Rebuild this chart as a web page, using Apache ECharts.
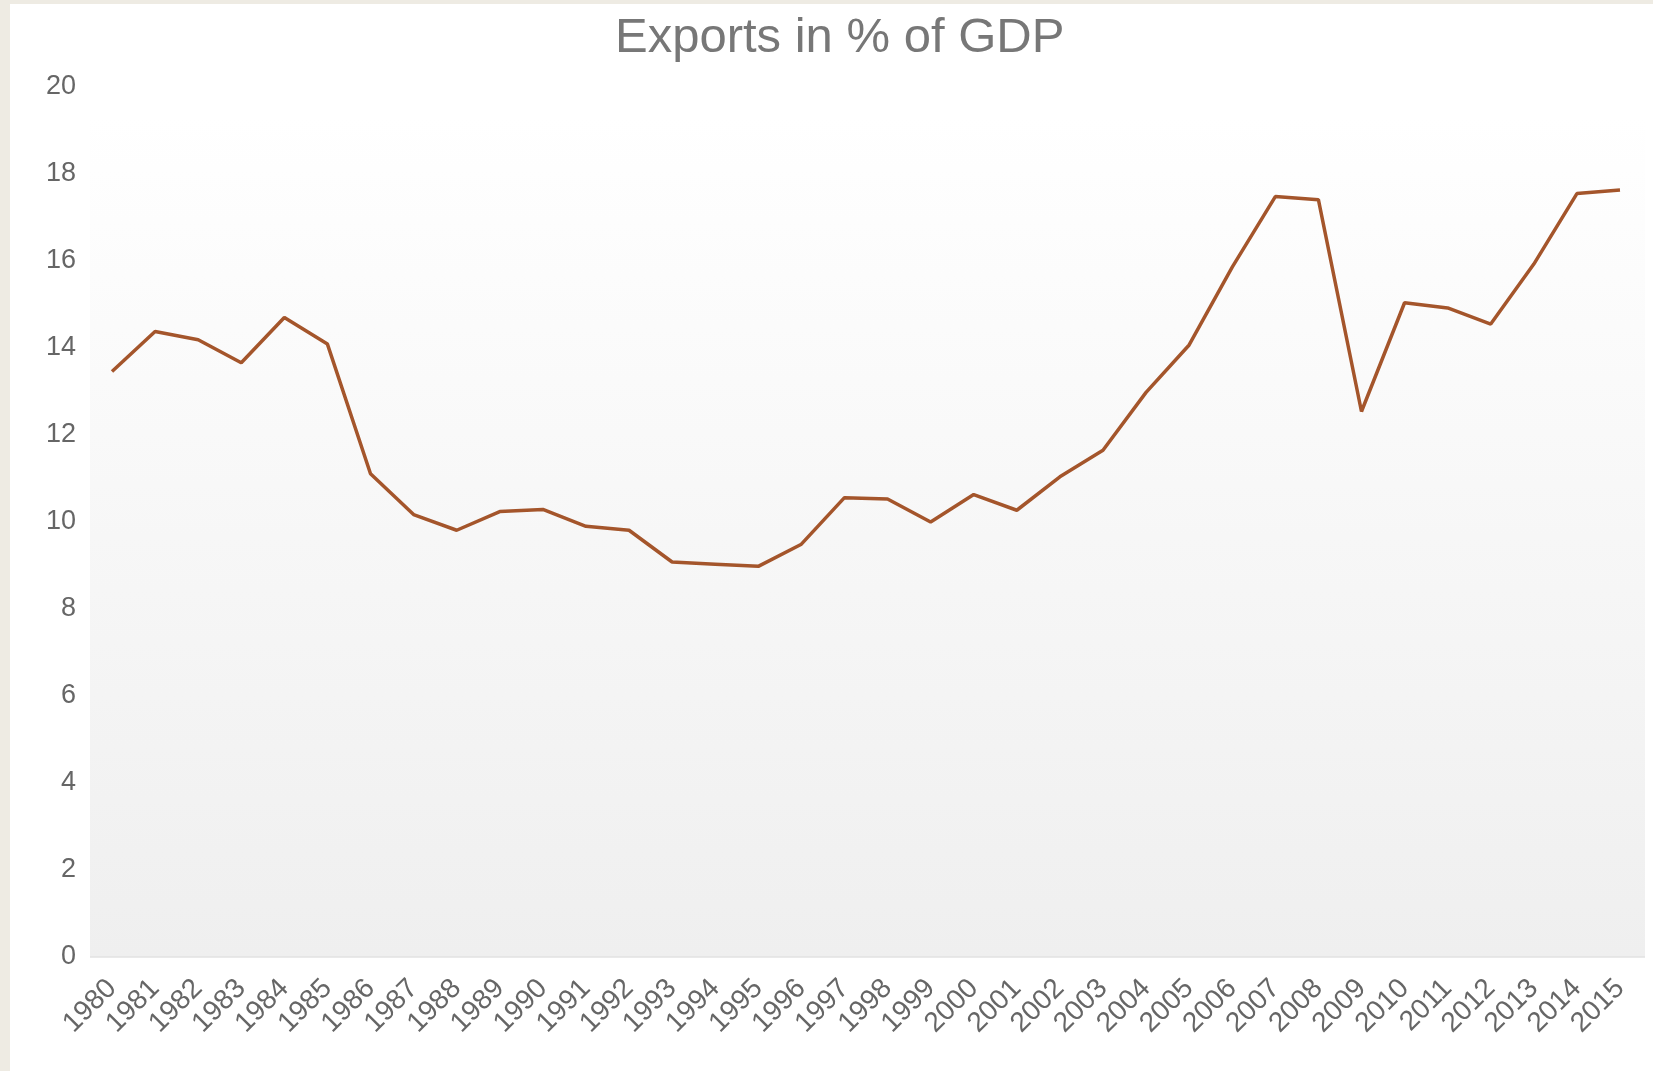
<!DOCTYPE html>
<html>
<head>
<meta charset="utf-8">
<script src="https://cdn.jsdelivr.net/npm/echarts@6/dist/echarts.min.js"></script>
<style>
  html, body { margin: 0; padding: 0; background: #eeebe3; width: 1653px; height: 1071px; overflow: hidden; }
  #chart { position: absolute; left: 10px; top: 4px; width: 1643px; height: 1067px; background: #ffffff; }
</style>
</head>
<body>
<div id="chart"></div>
<script>
const titleText = "Exports in % of GDP";
const years = ["1980","1981","1982","1983","1984","1985","1986","1987","1988","1989",
  "1990","1991","1992","1993","1994","1995","1996","1997","1998","1999",
  "2000","2001","2002","2003","2004","2005","2006","2007","2008","2009",
  "2010","2011","2012","2013","2014","2015"];
const exportsPct = [13.46, 14.38, 14.19, 13.66, 14.70, 14.09, 11.11, 10.17, 9.81, 10.24,
  10.29, 9.90, 9.81, 9.08, 9.03, 8.98, 9.49, 10.56, 10.53, 10.00,
  10.63, 10.27, 11.04, 11.65, 12.98, 14.07, 15.86, 17.48, 17.41, 12.54,
  15.04, 14.92, 14.55, 15.93, 17.55, 17.63];
const yMin = 0, yMax = 20, yStep = 2;

const chart = echarts.init(document.getElementById('chart'), null, { renderer: 'canvas' });
const FONT = '"Liberation Sans", Arial, sans-serif';
chart.setOption({
  animation: false,
  backgroundColor: '#ffffff',
  title: {
    text: titleText,
    left: 600, top: 5,
    textStyle: { fontFamily: FONT, fontSize: 49, fontWeight: 'normal', color: '#777777' }
  },
  graphic: [
    {
      type: 'rect', z: -10, silent: true,
      shape: { x: 80, y: 113, width: 1555, height: 840 },
      style: {
        fill: new echarts.graphic.LinearGradient(0, 0, 0, 1, [
          { offset: 0, color: '#ffffff' },
          { offset: 1, color: '#efefef' }
        ])
      }
    },
    {
      type: 'line', z: -9, silent: true,
      shape: { x1: 80, y1: 953, x2: 1635, y2: 953 },
      style: { stroke: '#e2e2e2', lineWidth: 1.5 }
    }
  ],
  grid: { left: 102, right: 33, top: 83, bottom: 114, containLabel: false },
  xAxis: {
    type: 'category',
    data: years,
    boundaryGap: false,
    axisLine: { show: false },
    axisTick: { show: false },
    splitLine: { show: false },
    axisLabel: {
      interval: 0, rotate: 45, margin: 27,
      fontFamily: FONT, fontSize: 28, color: '#666666'
    }
  },
  yAxis: {
    type: 'value',
    min: yMin, max: yMax, interval: yStep,
    axisLine: { show: false },
    axisTick: { show: false },
    splitLine: { show: false },
    axisLabel: { margin: 36, fontFamily: FONT, fontSize: 27, color: '#666666' }
  },
  series: [{
    type: 'line',
    data: exportsPct,
    showSymbol: false,
    symbol: 'none',
    lineStyle: { color: '#a4552b', width: 3.5 },
    itemStyle: { color: '#a4552b' }
  }]
});
</script>
</body>
</html>
